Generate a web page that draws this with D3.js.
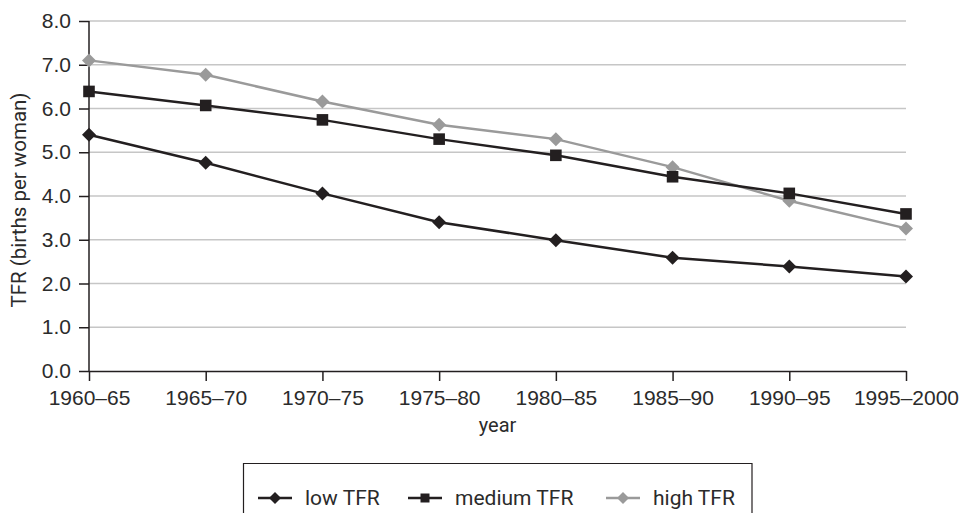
<!DOCTYPE html>
<html>
<head>
<meta charset="utf-8">
<script src="https://cdn.jsdelivr.net/npm/d3@7"></script>
<style>
  body { margin: 0; background: #fff; }
  svg { display: block; font-family: Roboto, "Open Sans", sans-serif; }
  .tick text { fill: #2b2b2b; }
</style>
</head>
<body>
<div id="chart"></div>
<script>
// Periods along the x axis
const periods = ["1960–65", "1965–70", "1970–75", "1975–80", "1980–85", "1985–90", "1990–95", "1995–2000"];

// TFR values
const lowTFR = [5.4, 4.76, 4.06, 3.4, 2.99, 2.59, 2.39, 2.16];
const mediumTFR = [6.39, 6.07, 5.74, 5.3, 4.93, 4.44, 4.06, 3.59];
const highTFR = [7.1, 6.77, 6.16, 5.63, 5.3, 4.66, 3.89, 3.26];

const yTicks = [0, 1, 2, 3, 4, 5, 6, 7, 8];

const seriesNames = ["low TFR", "medium TFR", "high TFR"];

const width = 961, height = 513;
const margin = { top: 21, right: 55, bottom: 142, left: 89 };

const svg = d3.select("#chart").append("svg")
    .attr("width", width)
    .attr("height", height);

const x = d3.scalePoint()
    .domain(periods)
    .range([margin.left, width - margin.right]);

const y = d3.scaleLinear()
    .domain([0, 8])
    .range([height - margin.bottom, margin.top]);

// Horizontal gridlines
svg.append("g")
    .selectAll("line")
    .data(yTicks.filter(d => d > 0))
    .enter()
    .append("line")
    .attr("x1", margin.left)
    .attr("x2", width - margin.right)
    .attr("y1", d => y(d))
    .attr("y2", d => y(d))
    .attr("stroke", "#c6c6c6")
    .attr("stroke-width", 1.5);

// Y axis
const yAxis = svg.append("g")
    .attr("transform", "translate(" + margin.left + ",0)")
    .call(d3.axisLeft(y).tickValues(yTicks).tickFormat(d3.format(".1f")).tickSize(10).tickPadding(8));
yAxis.selectAll("text").style("font-size", "21px");
yAxis.selectAll("line, path").attr("stroke", "#231f20").attr("stroke-width", 1.5);
yAxis.select(".domain").attr("d", "M0," + y(8) + "V" + y(0));

// X axis
const xAxis = svg.append("g")
    .attr("transform", "translate(0," + y(0) + ")")
    .call(d3.axisBottom(x).tickSize(10).tickSizeOuter(0).tickPadding(9));
xAxis.selectAll("text").style("font-size", "21px");
xAxis.selectAll("line, path").attr("stroke", "#231f20").attr("stroke-width", 1.5);

// Axis titles
svg.append("text")
    .attr("x", (x.range()[0] + x.range()[1]) / 2)
    .attr("y", 432)
    .attr("text-anchor", "middle")
    .style("font-size", "20px")
    .attr("fill", "#2b2b2b")
    .text("year");

svg.append("text")
    .attr("transform", "translate(26,200) rotate(-90)")
    .attr("text-anchor", "middle")
    .style("font-size", "20.5px")
    .attr("fill", "#2b2b2b")
    .text("TFR (births per woman)");

// Series
const series = [
    { name: seriesNames[0], values: lowTFR, color: "#231f20", marker: "diamond" },
    { name: seriesNames[1], values: mediumTFR, color: "#231f20", marker: "square" },
    { name: seriesNames[2], values: highTFR, color: "#9a9a9a", marker: "diamond" }
];

const line = d3.line()
    .x((d, i) => x(periods[i]))
    .y(d => y(d));

function markerPath(type, s) {
    if (type === "diamond") return "M0," + (-s) + "L" + s + ",0L0," + s + "L" + (-s) + ",0Z";
    return "M" + (-s) + "," + (-s) + "H" + s + "V" + s + "H" + (-s) + "Z";
}

// Draw high first so the black lines sit on top like the original
[series[2], series[1], series[0]].forEach(s => {
    svg.append("path")
        .datum(s.values)
        .attr("fill", "none")
        .attr("stroke", s.color)
        .attr("stroke-width", 2.5)
        .attr("d", line);

    svg.append("g")
        .selectAll("path")
        .data(s.values)
        .enter()
        .append("path")
        .attr("transform", (d, i) => "translate(" + x(periods[i]) + "," + y(d) + ")")
        .attr("d", markerPath(s.marker, s.marker === "diamond" ? 7 : 5.8))
        .attr("fill", s.color);
});

// Legend
const legend = svg.append("g");
legend.append("path")
    .attr("d", "M243.5,513V463.5H752V513")
    .attr("fill", "none")
    .attr("stroke", "#231f20")
    .attr("stroke-width", 1.2);

const legendX = [258, 408, 606];
series.forEach((s, i) => {
    const g = legend.append("g").attr("transform", "translate(" + legendX[i] + ",498)");
    g.append("line")
        .attr("x1", 0).attr("x2", 34)
        .attr("stroke", s.color)
        .attr("stroke-width", 2.5);
    g.append("path")
        .attr("transform", "translate(17,0)")
        .attr("d", markerPath(s.marker, s.marker === "diamond" ? 6 : 4.5))
        .attr("fill", s.color);
    g.append("text")
        .attr("x", 47)
        .attr("dy", "0.35em")
        .style("font-size", "21px")
        .attr("fill", "#2b2b2b")
        .text(s.name);
});
</script>
</body>
</html>
